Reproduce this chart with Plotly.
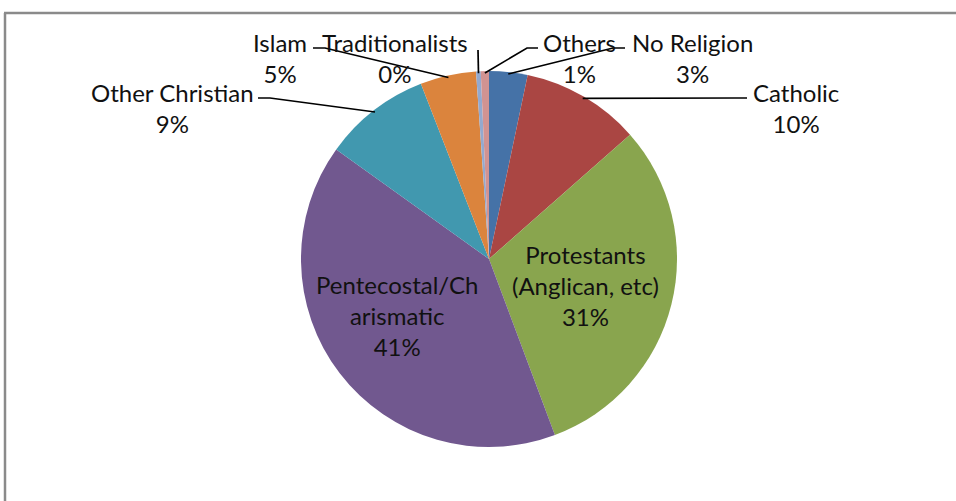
import math
import plotly.graph_objects as go

# ---- data ----
categories = ["No Religion", "Catholic", "Protestants (Anglican, etc)",
              "Pentecostal/Charismatic", "Other Christian", "Islam",
              "Traditionalists", "Others"]
values = [3.3, 10.2, 30.8, 40.6, 9.2, 4.8, 0.4, 0.7]
label_names = ["No Religion", "Catholic", "Protestants<br>(Anglican, etc)",
               "Pentecostal/Ch<br>arismatic", "Other Christian", "Islam",
               "Traditionalists", "Others"]
colors = ["#4572A7", "#AA4643", "#89A54E", "#71588F",
          "#4198AF", "#DB843D", "#93A9CF", "#D19392"]

# ---- layout (pixels, in screenshot coordinates) ----
W, H = 956, 501
CX, CY, R = 489, 259, 188
LEADER_R = 186
FONT = "Lato"
FS = 24

label_pos = {
    "No Religion": (692, 57.5),
    "Catholic": (796, 108),
    "Protestants (Anglican, etc)": (585, 285),
    "Pentecostal/Charismatic": (397, 315),
    "Other Christian": (172, 107.5),
    "Islam": (280, 57.5),
    "Traditionalists": (395, 57.5),
    "Others": (579, 57.5),
}
leader = {
    "No Religion": ((613, 48), (625, 48)),
    "Catholic": ((735, 98), (747, 98)),
    "Other Christian": ((270, 98), (258, 98)),
    "Islam": ((325, 48), (313, 48)),
    "Traditionalists": ((478, 50), (478, 50)),
    "Others": ((527, 48), (538, 48)),
}


def px(x):
    return x / W


def py(y):
    return 1 - y / H


fig = go.Figure(go.Pie(
    labels=categories, values=values, sort=False, direction="clockwise",
    rotation=0, textinfo="none", marker=dict(colors=colors, line=dict(width=0)),
    domain=dict(x=[px(CX - R), px(CX + R)], y=[py(CY + R), py(CY - R)]),
    showlegend=False, hoverinfo="label+percent",
))

total = sum(values)
cum = 0.0
annotations = []
shapes = []
for cat, name, v in zip(categories, label_names, values):
    mid = (cum + v / 2) / total
    cum += v
    ang = 2 * math.pi * mid
    sx = CX + LEADER_R * math.sin(ang)
    sy = CY - LEADER_R * math.cos(ang)
    lx, ly = label_pos[cat]
    annotations.append(dict(
        x=px(lx), y=py(ly), xref="paper", yref="paper",
        text=f"{name}<br>{round(v / total * 100)}%", showarrow=False,
        xanchor="center", yanchor="middle", align="center",
        font=dict(family=FONT, size=FS, color="#111111"),
    ))
    if cat in leader:
        (ex, ey), (tx, ty) = leader[cat]
        path = (f"M {px(sx)},{py(sy)} L {px(ex)},{py(ey)} "
                f"L {px(tx)},{py(ty)}")
        shapes.append(dict(type="path", path=path, xref="paper", yref="paper",
                           line=dict(color="#000000", width=1.7)))

# chart-area border (top and left edges visible)
shapes.append(dict(type="line", xref="paper", yref="paper",
                   x0=px(4), y0=py(13), x1=1.02, y1=py(13),
                   line=dict(color="#8a8a8a", width=2.5)))
shapes.append(dict(type="line", xref="paper", yref="paper",
                   x0=px(5), y0=py(13), x1=px(5), y1=-0.05,
                   line=dict(color="#8a8a8a", width=2.5)))

fig.update_layout(
    width=W, height=H, margin=dict(l=0, r=0, t=0, b=0),
    paper_bgcolor="white", plot_bgcolor="white",
    annotations=annotations, shapes=shapes,
    font=dict(family=FONT, size=FS),
)

fig.write_html("out.html", config={"displayModeBar": False},
               post_script="document.body.style.margin='0';"
                           "document.body.style.overflow='hidden';")
